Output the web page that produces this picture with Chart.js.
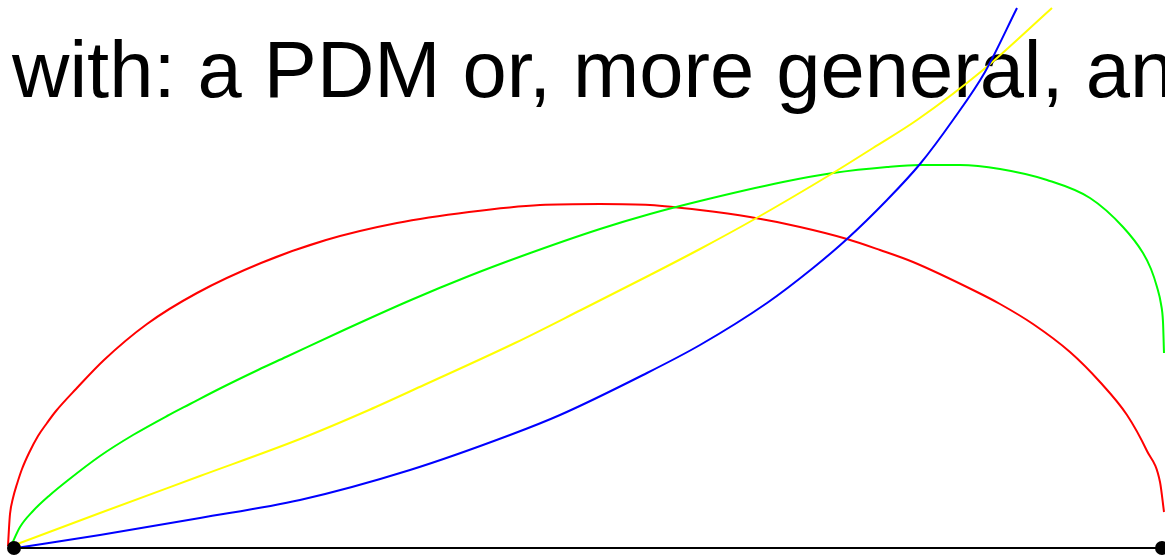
<!DOCTYPE html>
<html>
<head>
<meta charset="utf-8">
<title>PDM curves</title>
<script src="https://cdn.jsdelivr.net/npm/chart.js"></script>
<style>
  html, body { margin: 0; padding: 0; background: #fff; }
  canvas { display: block; }
</style>
</head>
<body>
<canvas id="pdmChart" width="1165" height="558"></canvas>
<script>
// Units: distance along the baseline (x) and height above it (y).
const caption = 'with: a PDM or, more general, an';

const baseX = [0, 1148];
const baseY = [0, 0];

const redX = [-6, -5, -4, -1, 3, 8, 15, 24, 33, 42, 62, 90, 133, 183, 247, 312, 383, 455, 526, 586, 636, 686, 736, 786, 833, 866, 899, 963, 986, 1019, 1056, 1086, 1113, 1133, 1146, 1150];
const redY = [2, 20, 34, 50, 64, 79, 95, 112, 125, 137, 159, 188, 224, 255, 285, 308, 325, 336, 343, 344, 343, 338, 331, 321, 309, 298, 286, 256, 244, 224, 196, 166, 133, 97, 66, 36];

const greenX = [-3, 6, 19, 36, 53, 86, 119, 153, 176, 205, 244, 272, 330, 397, 455, 508, 586, 636, 686, 769, 819, 873, 906, 946, 986, 1033, 1076, 1109, 1129, 1137, 1143, 1147, 1149, 1150];
const greenY = [2, 21, 37, 53, 67, 92, 113, 132, 144, 159, 178, 191, 218, 248, 272, 292, 319, 334, 347, 366, 375, 381, 383, 383, 379, 368, 350, 321, 295, 279, 261, 244, 226, 195];

const yellowX = [-2, 86, 186, 286, 355, 410, 501, 567, 636, 686, 739, 819, 859, 903, 969, 1038];
const yellowY = [2, 35, 72, 109, 138, 163, 205, 238, 273, 299, 328, 375, 400, 428, 478, 540];

const blueX = [2, 86, 186, 286, 396, 496, 546, 629, 686, 753, 799, 833, 873, 906, 939, 971, 1003];
const blueY = [0, 13, 30, 48, 78, 113, 133, 173, 203, 245, 280, 309, 348, 384, 428, 476, 540];

function pts(xs, ys) {
  return xs.map((x, i) => ({ x: x, y: ys[i] }));
}

function curve(label, xs, ys, color) {
  return {
    label: label,
    data: pts(xs, ys),
    showLine: true,
    borderColor: color,
    backgroundColor: color,
    borderWidth: 2,
    pointRadius: 0,
    cubicInterpolationMode: 'monotone',
    fill: false,
  };
}

// caption sits under the curves
const captionPlugin = {
  id: 'caption',
  beforeDatasetsDraw(chart) {
    const ctx = chart.ctx;
    ctx.save();
    ctx.fillStyle = '#000';
    ctx.font = '79.5px "Liberation Sans", Arial, sans-serif';
    ctx.textBaseline = 'alphabetic';
    ctx.fillText(caption, 12, 97);
    ctx.restore();
  },
};

new Chart(document.getElementById('pdmChart'), {
  type: 'scatter',
  data: {
    datasets: [
      {
        label: 'base',
        data: pts(baseX, baseY),
        showLine: true,
        borderColor: '#000',
        backgroundColor: '#000',
        borderWidth: 2,
        pointRadius: 7,
        pointBorderWidth: 0,
      },
      curve('blue', blueX, blueY, '#0000ff'),
      curve('yellow', yellowX, yellowY, '#ffff00'),
      curve('green', greenX, greenY, '#00ff00'),
      curve('red', redX, redY, '#ff0000'),
    ],
  },
  options: {
    responsive: false,
    devicePixelRatio: 1,
    animation: false,
    layout: { padding: 0, autoPadding: false },
    plugins: {
      legend: { display: false },
      tooltip: { enabled: false },
      title: { display: false },
    },
    scales: {
      x: { type: 'linear', display: false, min: -14, max: 1151 },
      y: { type: 'linear', display: false, min: -10, max: 548 },
    },
  },
  plugins: [captionPlugin],
});
</script>
</body>
</html>
